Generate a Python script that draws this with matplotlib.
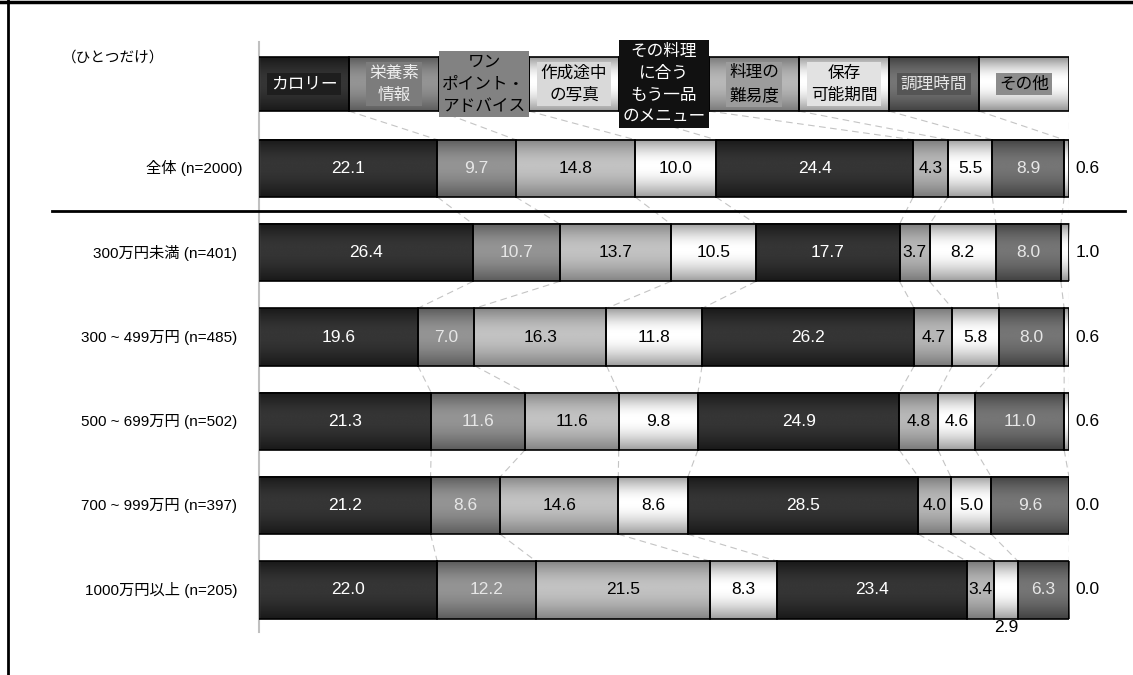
import numpy as np
import matplotlib.pyplot as plt
from matplotlib.lines import Line2D

plt.rcParams['font.family'] = ['Liberation Sans', 'Noto Sans CJK JP']

# 項目（凡例ヘッダー）
items = ['カロリー', '栄養素\n情報', 'ワン\nポイント・\nアドバイス', '作成途中\nの写真',
         'その料理\nに合う\nもう一品\nのメニュー', '料理の\n難易度', '保存\n可能期間',
         '調理時間', 'その他']

groups = ['全体 (n=2000)', '300万円未満 (n=401)', '300 ~ 499万円 (n=485)',
          '500 ~ 699万円 (n=502)', '700 ~ 999万円 (n=397)', '1000万円以上 (n=205)']

v_all = [22.1, 9.7, 14.8, 10.0, 24.4, 4.3, 5.5, 8.9, 0.6]
v_u300 = [26.4, 10.7, 13.7, 10.5, 17.7, 3.7, 8.2, 8.0, 1.0]
v_300 = [19.6, 7.0, 16.3, 11.8, 26.2, 4.7, 5.8, 8.0, 0.6]
v_500 = [21.3, 11.6, 11.6, 9.8, 24.9, 4.8, 4.6, 11.0, 0.6]
v_700 = [21.2, 8.6, 14.6, 8.6, 28.5, 4.0, 5.0, 9.6, 0.0]
v_1000 = [22.0, 12.2, 21.5, 8.3, 23.4, 3.4, 2.9, 6.3, 0.0]
rows = [v_all, v_u300, v_300, v_500, v_700, v_1000]

# 円柱風グラデーション（上下の濃さ, 中央の明るさ）
edge_gray = [0.10, 0.36, 0.52, 0.62, 0.10, 0.48, 0.62, 0.26, 0.58]
center_gray = [0.21, 0.58, 0.76, 1.00, 0.21, 0.72, 1.00, 0.46, 1.00]
num_colors = ['white', '#e6e6e6', 'black', 'black', 'white', 'black', 'black', '#e6e6e6', 'black']
tag_bg = ['#1e1e1e', '#7c7c7c', '#828282', '#d9d9d9', '#111111', '#9c9c9c', '#e2e2e2', '#555555', '#8c8c8c']
tag_fg = ['white', '#eeeeee', 'black', 'black', 'white', 'black', 'black', '#e6e6e6', 'black']

t = np.linspace(0, 1, 80)
peak = 0.45
shape = np.where(t < peak, np.sin(np.pi / 2 * t / peak),
                 np.cos(np.pi / 2 * (t - peak) / (1 - peak)))


def fill_gradient(ax, patch, k):
    x0, y0 = patch.get_x(), patch.get_y()
    w, h = patch.get_width(), patch.get_height()
    col = (edge_gray[k] + (center_gray[k] - edge_gray[k]) * shape)[:, None]
    ax.imshow(col, cmap='gray', vmin=0, vmax=1, aspect='auto', interpolation='bilinear',
              extent=(x0, x0 + w, y0 + h, y0), zorder=1)


fig = plt.figure(figsize=(11.33, 6.75), dpi=100)
ax = fig.add_axes([259 / 1133, 43 / 675, 810 / 1133, 590 / 675])

bar_h = 0.68
head_h = 0.64
n = len(items)

# ヘッダー
head_w = [100 / n] * n
head_left = np.concatenate([[0], np.cumsum(head_w)[:-1]])
head_bars = ax.barh([0] * n, head_w, left=head_left, height=head_h,
                    facecolor='none', edgecolor='black', lw=1.2, zorder=3)
for k, p in enumerate(head_bars):
    fill_gradient(ax, p, k)
    ax.text(p.get_x() + p.get_width() / 2, 0, items[k], ha='center', va='center',
            fontsize=12, color=tag_fg[k], linespacing=1.58, zorder=5,
            bbox=dict(boxstyle='square,pad=0.2', fc=tag_bg[k], ec='none'))

# 各層の帯グラフ
bounds = [np.cumsum(head_w)]
for i, vals in enumerate(rows):
    y = i + 1
    widths = np.array(vals) / sum(vals) * 100
    lefts = np.concatenate([[0], np.cumsum(widths)[:-1]])
    bounds.append(np.cumsum(widths))
    bars = ax.barh([y] * n, widths, left=lefts, height=bar_h,
                   facecolor='none', edgecolor='black', lw=1.2, zorder=3)
    for k, p in enumerate(bars):
        fill_gradient(ax, p, k)
        cx = p.get_x() + p.get_width() / 2
        label = f'{vals[k]:.1f}'
        if k == n - 1:
            ax.text(100.8, y, label, ha='left', va='center', fontsize=12.5, zorder=5)
        elif vals[k] < 3.0:
            ax.text(cx, y + 0.45, label, ha='center', va='center', fontsize=12.5, zorder=5)
        else:
            ax.text(cx, y, label, ha='center', va='center', fontsize=12.5,
                    color=num_colors[k], zorder=5)
    ax.text(-2.0 if i == 0 else -2.7, y, groups[i], ha='right', va='center', fontsize=11)

# 区切りの破線
for r in range(len(bounds) - 1):
    top = r + (head_h if r == 0 else bar_h) / 2
    bot = r + 1 - bar_h / 2
    for a, b in zip(bounds[r], bounds[r + 1]):
        ax.plot([a, b], [top, bot], color='#c4c4c4', lw=0.8, ls=(0, (6, 4)), zorder=0)

ax.axhline(1.5, xmin=-0.2556, xmax=1.069, color='black', lw=2, clip_on=False, zorder=4)

ax.text(-24.3, -0.32, '（ひとつだけ）', ha='left', va='center', fontsize=10.5)

ax.set_xlim(0, 100)
ax.set_ylim(6.5, -0.5)
ax.set_xticks([])
ax.set_yticks([])
for side in ['top', 'right', 'bottom']:
    ax.spines[side].set_visible(False)
ax.spines['left'].set_color('#c0c0c0')
ax.spines['left'].set_linewidth(1.5)

# 外枠（左と上）
fig.add_artist(Line2D([8 / 1133, 8 / 1133], [0, 1], color='black', lw=2))
fig.add_artist(Line2D([0, 1], [1 - 2 / 675, 1 - 2 / 675], color='black', lw=2.5))

fig.savefig('out.png', dpi=100)
